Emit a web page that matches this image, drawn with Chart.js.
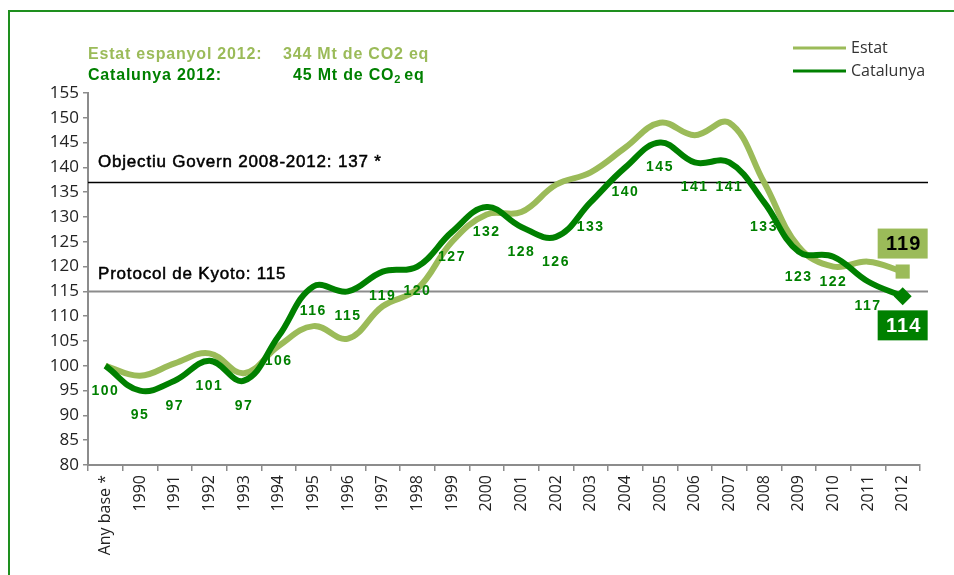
<!DOCTYPE html>
<html lang="ca">
<head>
<meta charset="utf-8">
<title>Emissions GEH - Estat i Catalunya</title>
<script src="https://cdn.jsdelivr.net/npm/chart.js@4.4.1/dist/chart.umd.min.js"></script>
<style>
  html, body { margin: 0; padding: 0; background: #fff; }
  canvas { display: block; }
</style>
</head>
<body>
<canvas id="grafic" width="954" height="575"></canvas>
<script>
// --- DADES ---
const anys = ["Any base *", "1990", "1991", "1992", "1993", "1994", "1995", "1996", "1997", "1998", "1999",
  "2000", "2001", "2002", "2003", "2004", "2005", "2006", "2007", "2008", "2009", "2010", "2011", "2012"];

// índex respecte l'any base (=100)
const estat = [100, 98, 100.5, 102.5, 98.5, 104, 108, 105.5, 112, 115.5, 125, 130.5,
  131, 136.5, 139, 144, 149, 146.5, 149, 137, 124, 120, 121, 119];
const catalunya = [100, 95, 97, 101, 97, 106, 116, 115, 119, 120, 127, 132,
  128, 126, 133, 140, 145, 141, 141, 133, 123, 122, 117, 114];

const objectiuGovern = 137;
const protocolKyoto = 115;

const colorEstat = "#9bbb59";
const colorCat = "#008000";
const darrer = anys.length - 1;

// text una mica més gruixut (com l'original)
function textGruixut(ctx, txt, x, y) {
  ctx.fillText(txt, x, y);
  ctx.strokeText(txt, x, y);
}

// --- PLUGIN: textos, línies de referència i etiquetes ---
const extres = {
  id: "extres",
  beforeDatasetsDraw(chart) {
    const { ctx, scales } = chart;
    const y = scales.y;
    const x0 = chart.chartArea.left;
    const x1 = 928;

    ctx.save();
    // línia objectiu
    const yObj = Math.round(y.getPixelForValue(objectiuGovern)) + 0.5;
    ctx.strokeStyle = "#000";
    ctx.lineWidth = 1.5;
    ctx.beginPath(); ctx.moveTo(x0, yObj); ctx.lineTo(x1, yObj); ctx.stroke();
    // línia Kyoto
    const yKy = Math.round(y.getPixelForValue(protocolKyoto)) + 0.5;
    ctx.strokeStyle = "#8c8c8c";
    ctx.lineWidth = 2;
    ctx.beginPath(); ctx.moveTo(x0, yKy); ctx.lineTo(x1, yKy); ctx.stroke();

    ctx.fillStyle = "#000";
    ctx.strokeStyle = "#000";
    ctx.lineWidth = 0.5;
    ctx.textBaseline = "middle";
    ctx.textAlign = "left";
    ctx.font = "17px 'Liberation Sans', Arial, sans-serif";
    ctx.letterSpacing = "0.8px";
    textGruixut(ctx, "Objectiu Govern 2008-2012: " + objectiuGovern + " *", 98, yObj - 20);
    textGruixut(ctx, "Protocol de Kyoto: " + protocolKyoto, 98, yKy - 17);
    ctx.restore();
  },
  afterDraw(chart) {
    const { ctx, scales } = chart;
    const x = scales.x, y = scales.y;
    ctx.save();

    // marc verd
    ctx.strokeStyle = "#1e8f1e";
    ctx.lineWidth = 2;
    ctx.strokeRect(9, 11, 1000, 700);

    // capçalera
    ctx.textBaseline = "middle";
    ctx.textAlign = "left";
    ctx.letterSpacing = "0.8px";
    ctx.font = "bold 16px 'Liberation Sans', Arial, sans-serif";
    ctx.fillStyle = colorEstat;
    ctx.fillText("Estat espanyol 2012:", 88, 55);
    ctx.fillText("344 Mt de CO2 eq", 283, 55);
    ctx.fillStyle = colorCat;
    ctx.fillText("Catalunya 2012:", 88, 76);
    ctx.fillText("45 Mt de CO", 293, 76);
    let w = ctx.measureText("45 Mt de CO").width;
    ctx.font = "bold 11px 'Liberation Sans', Arial, sans-serif";
    ctx.fillText("2", 293 + w, 80);
    w += ctx.measureText("2").width + 3;
    ctx.font = "bold 16px 'Liberation Sans', Arial, sans-serif";
    ctx.fillText("eq", 293 + w, 76);

    // llegenda
    ctx.letterSpacing = "0px";
    ctx.font = "16px 'Open Sans', 'Liberation Sans', sans-serif";
    ctx.lineWidth = 3;
    [["Estat", colorEstat, 48], ["Catalunya", colorCat, 71]].forEach(([txt, col, yy]) => {
      ctx.strokeStyle = col;
      ctx.beginPath(); ctx.moveTo(793, yy); ctx.lineTo(846, yy); ctx.stroke();
      ctx.fillStyle = "#333";
      ctx.fillText(txt, 851, yy);
    });

    // etiquetes Catalunya
    ctx.font = "bold 14px 'Liberation Sans', Arial, sans-serif";
    ctx.letterSpacing = "1.5px";
    ctx.textAlign = "center";
    ctx.fillStyle = colorCat;
    catalunya.forEach((v, i) => {
      if (i === darrer) return;
      const px = x.getPixelForValue(i);
      const py = y.getPixelForValue(v);
      ctx.fillText(String(v), px, py + 25);
    });

    // caixes del darrer any
    const xe = x.getPixelForValue(darrer);
    const caixa = (val, fons, colText, dy) => {
      const cy = y.getPixelForValue(val) + dy;
      ctx.fillStyle = fons;
      ctx.fillRect(xe - 25, cy - 15, 50, 30);
      ctx.fillStyle = colText;
      ctx.font = "bold 20px 'Liberation Sans', Arial, sans-serif";
      ctx.letterSpacing = "1px";
      ctx.fillText(String(val), xe + 1, cy + 1);
    };
    caixa(estat[darrer], colorEstat, "#000", -28);
    caixa(catalunya[darrer], colorCat, "#fff", 29);

    ctx.restore();
  }
};

document.addEventListener("DOMContentLoaded", function () {
  const ctx = document.getElementById("grafic").getContext("2d");

  new Chart(ctx, {
    type: "line",
    data: {
      labels: anys,
      datasets: [
        {
          label: "Catalunya",
          data: catalunya,
          borderColor: colorCat,
          backgroundColor: colorCat,
          borderWidth: 6,
          tension: 0.4,
          pointStyle: "rectRot",
          pointRadius: c => (c.dataIndex === darrer ? 9 : 0),
          pointBorderWidth: 0,
          order: 0
        },
        {
          label: "Estat",
          data: estat,
          borderColor: colorEstat,
          backgroundColor: colorEstat,
          borderWidth: 6,
          tension: 0.4,
          pointStyle: "rect",
          pointRadius: c => (c.dataIndex === darrer ? 10 : 0),
          pointBorderWidth: 0,
          order: 1
        }
      ]
    },
    options: {
      responsive: false,
      animation: false,
      layout: { padding: { left: 8, top: 93, right: 34, bottom: 0 } },
      plugins: {
        legend: { display: false },
        tooltip: { enabled: false }
      },
      scales: {
        y: {
          min: 80,
          max: 155,
          ticks: {
            stepSize: 5,
            color: "#222",
            padding: 4,
            font: { family: "'Open Sans', 'Liberation Sans', sans-serif", size: 17 }
          },
          grid: { drawOnChartArea: false, tickLength: 5, color: "#8c8c8c", lineWidth: 1.5 },
          border: { color: "#8c8c8c", width: 2 },
          afterFit(s) { s.width = 80; }
        },
        x: {
          offset: true,
          ticks: {
            color: "#222",
            minRotation: 90,
            maxRotation: 90,
            padding: 4,
            font: { family: "'Open Sans', 'Liberation Sans', sans-serif", size: 16 }
          },
          grid: { offset: true, drawOnChartArea: false, tickLength: 6, color: "#8c8c8c", lineWidth: 1.5 },
          border: { color: "#8c8c8c", width: 2 },
          afterFit(s) { s.height = 110; }
        }
      }
    },
    plugins: [extres]
  });
});
</script>
</body>
</html>
